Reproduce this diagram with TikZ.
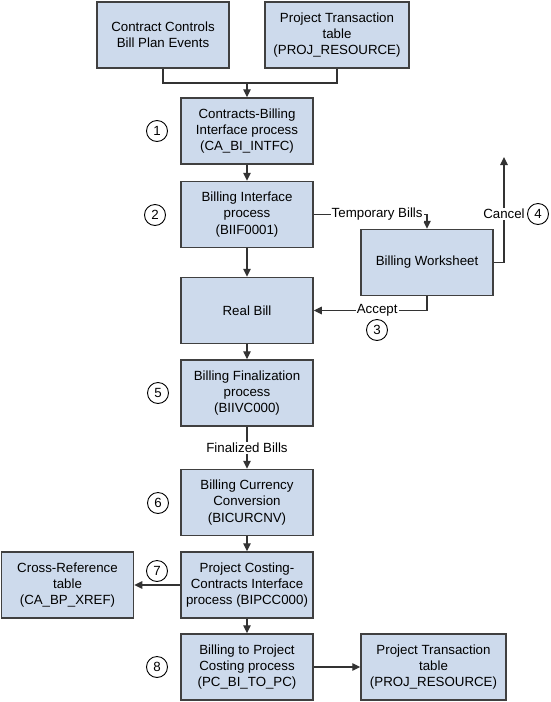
\documentclass[tikz,border=0pt]{standalone}
\usepackage{fontspec}
\setmainfont{Liberation Sans}
\usetikzlibrary{arrows.meta}
\definecolor{boxfill}{RGB}{205,218,236}
\definecolor{boxline}{RGB}{64,64,64}
\definecolor{conn}{RGB}{51,51,51}
\begin{document}
\begin{tikzpicture}[x=1pt,y=-1pt,
 box/.style={draw=boxline, line width=1.5pt, fill=boxfill, minimum width=132pt, minimum height=66pt, align=center, inner sep=2pt, font=\fontsize{13.3}{16.2}\selectfont},
 num/.style={draw=black, circle, line width=0.9pt, minimum size=21pt, inner sep=0pt, font=\fontsize{13.3}{16}\selectfont},
 arr/.style={draw=conn, line width=1.2pt, -{Triangle[length=8pt,width=7.5pt]}},
 ln/.style={draw=conn, line width=1.2pt},
 lbl/.style={fill=white, inner sep=1pt, font=\fontsize{13.3}{16}\selectfont}]
\useasboundingbox (0,0) rectangle (550,702);
\fill[white] (0,0) rectangle (550,702);
\node[box] (src1) at (163,35) {Contract Controls\\Bill Plan Events};
\node[box, minimum width=144pt] (src2) at (337,35) {Project Transaction\\table\\(PROJ\_RESOURCE)};
\node[box] (cbi) at (247,131) {Contracts-Billing\\Interface process\\(CA\_BI\_INTFC)};
\node[box] (bif) at (247,214.5) {Billing Interface\\process\\(BIIF0001)};
\node[box] (ws) at (427,262.5) {Billing Worksheet};
\node[box] (rb) at (247,310.5) {Real Bill};
\node[box] (fin) at (247,393) {Billing Finalization\\process\\(BIIVC000)};
\node[box] (cur) at (247,502.5) {Billing Currency\\Conversion\\(BICURCNV)};
\node[box] (pcc) at (247,585) {Project Costing-\\Contracts Interface\\process (BIPCC000)};
\node[box] (xref) at (67.5,585) {Cross-Reference\\table\\(CA\_BP\_XREF)};
\node[box] (b2pc) at (247,667) {Billing to Project\\Costing process\\(PC\_BI\_TO\_PC)};
\node[box, minimum width=145pt] (ptt) at (433.5,667) {Project Transaction\\table\\(PROJ\_RESOURCE)};
\node[num] (n1) at (157,131) {1};
\node[num] (n2) at (155,215) {2};
\node[num] (n3) at (377,330) {3};
\node[num] (n4) at (538,214) {4};
\node[num] (n5) at (158,393) {5};
\node[num] (n6) at (158,503) {6};
\node[num] (n7) at (157,571) {7};
\node[num] (n8) at (157,667) {8};
\coordinate (merge) at (247,83);
\coordinate (cancelend) at (504,157);
\draw[ln] (src1.south) |- (merge) -| (src2.south);
\draw[arr] (merge) -- (cbi.north);
\draw[arr] (cbi.south) -- (bif.north);
\draw[arr] (bif.south) -- (rb.north);
\draw[arr] (bif.east) -| (ws.north) node[lbl,pos=0.28]{Temporary Bills};
\draw[arr] (ws.south) |- (rb.east) node[lbl,pos=0.72]{Accept};
\draw[arr] (ws.east) -| (cancelend) node[lbl,pos=0.73]{Cancel};
\draw[arr] (rb.south) -- (fin.north);
\draw[arr] (fin.south) -- (cur.north) node[lbl,midway]{Finalized Bills};
\draw[arr] (cur.south) -- (pcc.north);
\draw[arr] (pcc.west) -- (xref.east);
\draw[arr] (pcc.south) -- (b2pc.north);
\draw[arr] (b2pc.east) -- (ptt.west);
\end{tikzpicture}
\end{document}
